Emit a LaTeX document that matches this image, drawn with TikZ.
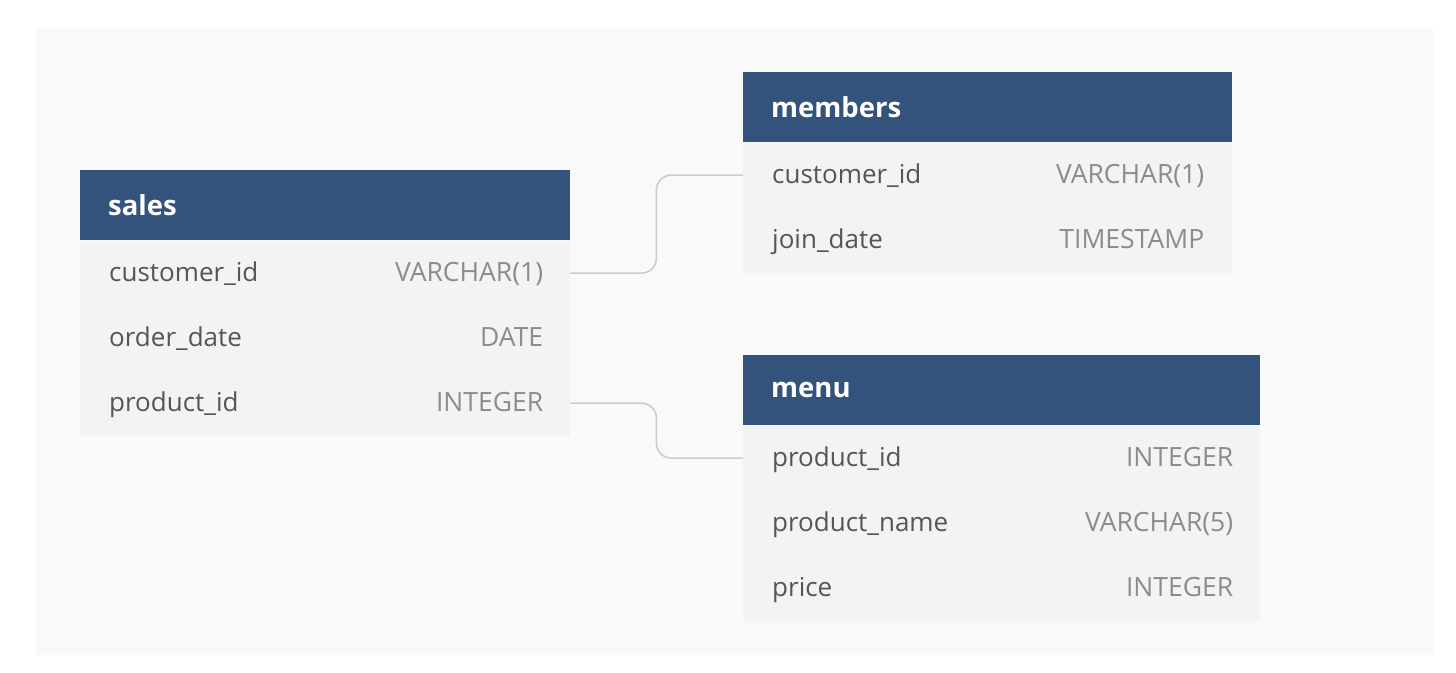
\documentclass[tikz,border=0pt]{standalone}
\usepackage{fontspec}
\setmainfont{Open Sans}
\usetikzlibrary{positioning}

\definecolor{headblue}{HTML}{33537D}
\definecolor{rowgray}{HTML}{F3F3F3}
\definecolor{panelgray}{HTML}{F9F9F9}
\definecolor{namegray}{HTML}{555555}
\definecolor{typegray}{HTML}{8C8C8C}
\definecolor{linkgray}{HTML}{CCCCCC}

\begin{document}
\begin{tikzpicture}[x=1pt,y=-1pt,
	tblhead/.style={fill=headblue, text=white, font=\fontsize{27.5}{32}\selectfont\bfseries,
		minimum height=70pt, anchor=north west, inner xsep=28pt, inner ysep=0pt, align=left},
	tblrow/.style={fill=rowgray, minimum height=65pt, anchor=north west, inner sep=0pt},
	fname/.style={text=namegray, font=\fontsize{26}{30}\selectfont, inner sep=0pt,
		text height=19pt, text depth=6pt},
	ftype/.style={text=typegray, font=\fontsize{26.5}{30}\selectfont, inner sep=0pt,
		text height=19pt, text depth=6pt},
	link/.style={draw=linkgray, line width=1.6pt, rounded corners=15pt}]

	% canvas
	\useasboundingbox (0,0) rectangle (1456,672);
	\fill[white] (0,0) rectangle (1456,672);
	\fill[panelgray] (36,28) rectangle (1433,655);

	% sales
	\node[tblhead, text width=434pt] (sales-h) at (80,170) {sales};
	\foreach \name/\type [count=\i] in {customer\_id/VARCHAR(1), order\_date/DATE, product\_id/INTEGER} {
		\node[tblrow, minimum width=490pt] (sales-\i) at ([yshift=-(\i-1)*65pt]sales-h.south west) {};
		\node[fname, right=29pt of sales-\i.west, yshift=-2pt] (sales-n\i) {\name};
		\node[ftype, left=27pt of sales-\i.east, yshift=-2pt] (sales-t\i) {\type};
	}

	% members
	\node[tblhead, text width=433pt] (members-h) at (743,72) {members};
	\foreach \name/\type [count=\i] in {customer\_id/VARCHAR(1), join\_date/TIMESTAMP} {
		\node[tblrow, minimum width=489pt] (members-\i) at ([yshift=-(\i-1)*65pt]members-h.south west) {};
		\node[fname, right=29pt of members-\i.west, yshift=-2pt] (members-n\i) {\name};
		\node[ftype, left=28pt of members-\i.east, yshift=-2pt] (members-t\i) {\type};
	}

	% menu
	\node[tblhead, text width=461pt] (menu-h) at (743,355) {menu};
	\foreach \name/\type [count=\i] in {product\_id/INTEGER, product\_name/VARCHAR(5), price/INTEGER} {
		\node[tblrow, minimum width=517pt] (menu-\i) at ([yshift=-(\i-1)*65pt]menu-h.south west) {};
		\node[fname, right=29pt of menu-\i.west, yshift=-2pt] (menu-n\i) {\name};
		\node[ftype, left=27pt of menu-\i.east, yshift=-2pt] (menu-t\i) {\type};
	}

	% relations
	\draw[link] (sales-1.east) -- ++(86,0) |- (members-1.west);
	\draw[link] (sales-3.east) -- ++(86,0) |- (menu-1.west);
\end{tikzpicture}
\end{document}
